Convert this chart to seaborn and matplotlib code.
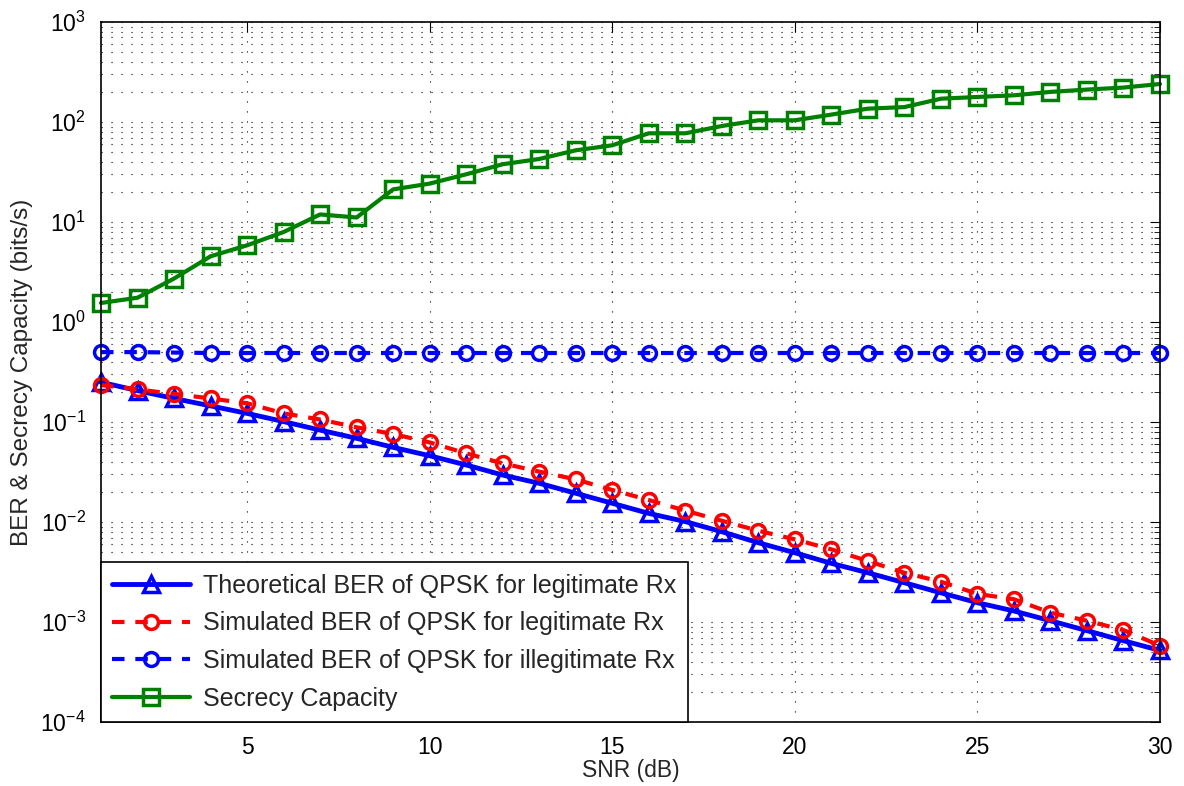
import numpy as np
import pandas as pd
import matplotlib
matplotlib.use("Agg")
import matplotlib.pyplot as plt
import seaborn as sns
from matplotlib.ticker import LogLocator, FixedLocator

# ---------------- data ----------------
snr_db = list(range(1, 31))
ber_theory_legit = [0.25, 0.206, 0.172, 0.145, 0.122, 0.101, 0.083, 0.0687, 0.0558, 0.046,
                    0.0372, 0.0295, 0.0244, 0.0194, 0.0154, 0.0122, 0.0101, 0.0080, 0.00621, 0.00493,
                    0.00386, 0.00311, 0.00247, 0.00196, 0.00156, 0.00129, 0.00103, 0.00082, 0.00065, 0.00052]
ber_sim_legit = [0.234, 0.212, 0.191, 0.172, 0.154, 0.122, 0.106, 0.0885, 0.0759, 0.0625,
                 0.0486, 0.0386, 0.0319, 0.0267, 0.0209, 0.0166, 0.0130, 0.0103, 0.00818, 0.00671,
                 0.00533, 0.00407, 0.00311, 0.00253, 0.00191, 0.00169, 0.00124, 0.00103, 0.00083, 0.00058]
ber_sim_illegit = [0.50, 0.50, 0.495, 0.49, 0.49, 0.49, 0.49, 0.49, 0.49, 0.49,
                   0.49, 0.49, 0.49, 0.49, 0.49, 0.49, 0.49, 0.49, 0.49, 0.49,
                   0.49, 0.49, 0.49, 0.49, 0.49, 0.49, 0.49, 0.49, 0.49, 0.49]
secrecy_capacity = [1.55, 1.75, 2.72, 4.54, 5.85, 7.94, 11.9, 11.1, 21.2, 24.2,
                    30.0, 37.8, 42.7, 52.1, 58.5, 77.1, 77.1, 91.2, 104, 104,
                    118.6, 136, 141, 171, 178, 185, 200, 211, 221, 240]
x_ticks = [5, 10, 15, 20, 25, 30]
labels = ["Theoretical BER of QPSK for legitimate Rx",
          "Simulated BER of QPSK for legitimate Rx",
          "Simulated BER of QPSK for illegitimate Rx",
          "Secrecy Capacity"]

df = pd.DataFrame({"snr": snr_db, "theory": ber_theory_legit, "sim": ber_sim_legit,
                   "eve": ber_sim_illegit, "cs": secrecy_capacity})

# ---------------- style ----------------
sns.set_style("white")
plt.rcParams["font.family"] = ["Liberation Sans", "DejaVu Sans"]
plt.rcParams["mathtext.fontset"] = "custom"
plt.rcParams["mathtext.rm"] = "Liberation Sans"
plt.rcParams["mathtext.it"] = "Liberation Sans:italic"
plt.rcParams["mathtext.default"] = "regular"

fig = plt.figure(figsize=(11.84, 7.86), dpi=100)
ax = fig.add_axes([0.0853, 0.0814, 0.8944, 0.8906])

common = dict(markerfacecolor="none", markeredgewidth=2.5, clip_on=False)
sns.lineplot(data=df, x="snr", y="theory", ax=ax, color="blue", linewidth=3.5,
             marker="^", markersize=12, markeredgecolor="blue", label=labels[0], **common)
sns.lineplot(data=df, x="snr", y="sim", ax=ax, color="red", linewidth=3,
             linestyle=(0, (3, 2.6)), marker="o", markersize=10, markeredgecolor="red",
             label=labels[1], **common)
sns.lineplot(data=df, x="snr", y="eve", ax=ax, color="blue", linewidth=3,
             linestyle=(0, (3, 2.6)), marker="o", markersize=10, markeredgecolor="blue",
             label=labels[2], **common)
sns.lineplot(data=df, x="snr", y="cs", ax=ax, color="#008000", linewidth=3,
             marker="s", markersize=11, markeredgecolor="#008000", label=labels[3], **common)

ax.set_yscale("log")
ax.set_xlim(1, 30)
ax.set_ylim(1e-4, 1e3)
ax.xaxis.set_major_locator(FixedLocator(x_ticks))
ax.yaxis.set_major_locator(LogLocator(base=10, numticks=20))
ax.yaxis.set_minor_locator(LogLocator(base=10, subs=np.arange(2, 10), numticks=100))

grid_ls = (0, (1, 8))
ax.grid(True, which="major", axis="both", color="k", linestyle=grid_ls, linewidth=0.8)
ax.grid(True, which="minor", axis="y", color="k", linestyle=grid_ls, linewidth=0.8)
ax.set_axisbelow(True)

ax.tick_params(which="both", direction="in", top=True, right=True, colors="k")
ax.tick_params(which="major", length=7, width=0.8, labelsize=16.5)
ax.tick_params(axis="y", which="major", pad=11)
ax.tick_params(axis="x", which="major", pad=10)
ax.tick_params(which="minor", length=4, width=0.6)
for s in ax.spines.values():
    s.set_color("k")
    s.set_linewidth(1.2)

ax.set_xlabel("SNR (dB)", fontsize=16.5, labelpad=0)
ax.set_ylabel("BER & Secrecy Capacity (bits/s)", fontsize=17.5, labelpad=5)

leg = ax.legend(loc="lower left", borderaxespad=0, fontsize=18, handlelength=3.1,
                handletextpad=0.55, frameon=True, fancybox=False, edgecolor="k",
                framealpha=1, labelspacing=0.55, borderpad=0.45)
leg.get_frame().set_linewidth(1.2)

fig.savefig("out.png", dpi=100)
